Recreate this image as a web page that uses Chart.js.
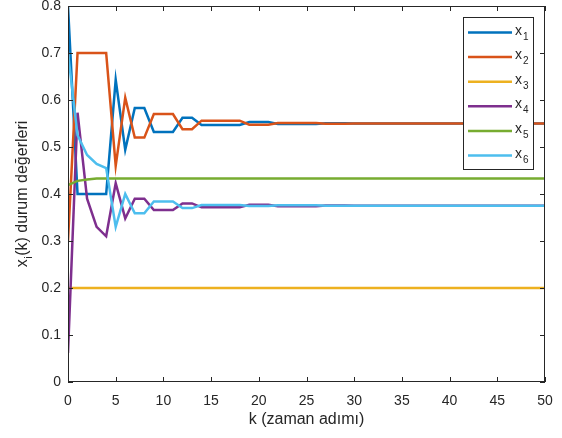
<!DOCTYPE html>
<html>
<head>
<meta charset="utf-8">
<script src="https://cdn.jsdelivr.net/npm/chart.js@4"></script>
<style>
  body { margin: 0; background: #fff; }
  #wrap { width: 562px; height: 438px; }
</style>
</head>
<body>
<div id="wrap"><canvas id="c" width="562" height="438"></canvas></div>
<script>
// k = 0..50
const steps = [0,1,2,3,4,5,6,7,8,9,10,11,12,13,14,15,16,17,18,19,20,21,22,23,24,25,26,27,28,29,30,
  31,32,33,34,35,36,37,38,39,40,41,42,43,44,45,46,47,48,49,50];

const x1 = [0.80, 0.40, 0.40, 0.40, 0.40, 0.643, 0.494, 0.583, 0.583, 0.532, 0.532, 0.532, 0.562, 0.562,
  0.547, 0.547, 0.547, 0.547, 0.547, 0.553, 0.553, 0.553, 0.549, 0.549, 0.549, 0.549, 0.549,
  0.5505, 0.5505, 0.5505, 0.5498, 0.5498, 0.5498, 0.5498, 0.5498,
  0.55, 0.55, 0.55, 0.55, 0.55, 0.55, 0.55, 0.55, 0.55, 0.55, 0.55, 0.55, 0.55, 0.55, 0.55, 0.55];
const x2 = [0.30, 0.70, 0.70, 0.70, 0.70, 0.46, 0.605, 0.52, 0.52, 0.57, 0.57, 0.57, 0.538, 0.538,
  0.556, 0.556, 0.556, 0.556, 0.556, 0.5475, 0.5475, 0.5475, 0.551, 0.551, 0.551, 0.551, 0.551,
  0.5495, 0.5495, 0.5495, 0.5502, 0.5502, 0.5502, 0.5502, 0.5502,
  0.55, 0.55, 0.55, 0.55, 0.55, 0.55, 0.55, 0.55, 0.55, 0.55, 0.55, 0.55, 0.55, 0.55, 0.55, 0.55];
const x3 = [0.2, 0.2, 0.2, 0.2, 0.2, 0.2, 0.2, 0.2, 0.2, 0.2, 0.2, 0.2, 0.2, 0.2, 0.2, 0.2, 0.2,
  0.2, 0.2, 0.2, 0.2, 0.2, 0.2, 0.2, 0.2, 0.2, 0.2, 0.2, 0.2, 0.2, 0.2, 0.2, 0.2, 0.2,
  0.2, 0.2, 0.2, 0.2, 0.2, 0.2, 0.2, 0.2, 0.2, 0.2, 0.2, 0.2, 0.2, 0.2, 0.2, 0.2, 0.2];
const x4 = [0.062, 0.573, 0.39, 0.33, 0.31, 0.423, 0.348, 0.39, 0.39, 0.366, 0.366, 0.366, 0.38, 0.38,
  0.3716, 0.3716, 0.3716, 0.3716, 0.3716, 0.377, 0.377, 0.377, 0.374, 0.374, 0.374, 0.374, 0.374,
  0.3755, 0.3755, 0.3755, 0.375, 0.375, 0.375, 0.375, 0.375,
  0.375, 0.375, 0.375, 0.375, 0.375, 0.375, 0.375, 0.375, 0.375, 0.375, 0.375, 0.375, 0.375, 0.375, 0.375, 0.375];
const x5 = [0.419, 0.428, 0.431, 0.433, 0.433, 0.433, 0.433, 0.433, 0.433, 0.433, 0.433, 0.433, 0.433,
  0.433, 0.433, 0.433, 0.433, 0.433, 0.433, 0.433, 0.433, 0.433, 0.433, 0.433, 0.433, 0.433,
  0.433, 0.433, 0.433, 0.433, 0.433, 0.433, 0.433, 0.433, 0.433, 0.433, 0.433, 0.433, 0.433,
  0.433, 0.433, 0.433, 0.433, 0.433, 0.433, 0.433, 0.433, 0.433, 0.433, 0.433, 0.433];
const x6 = [0.70, 0.525, 0.483, 0.464, 0.455, 0.33, 0.40, 0.359, 0.359, 0.384, 0.384, 0.384, 0.37, 0.37,
  0.3766, 0.3766, 0.3766, 0.3766, 0.3766, 0.3745, 0.3745, 0.3745, 0.3758, 0.3758, 0.3758, 0.3758, 0.3758,
  0.3748, 0.3748, 0.3748, 0.375, 0.375, 0.375, 0.375, 0.375,
  0.375, 0.375, 0.375, 0.375, 0.375, 0.375, 0.375, 0.375, 0.375, 0.375, 0.375, 0.375, 0.375, 0.375, 0.375, 0.375];

const seriesNames = ['1', '2', '3', '4', '5', '6']; // subscripts of x
const colors = ['#0072BD', '#D95319', '#EDB120', '#7E2F8E', '#77AC30', '#4DBEEE'];
const xTicks = [0, 5, 10, 15, 20, 25, 30, 35, 40, 45, 50];
const yTicks = [0, 0.1, 0.2, 0.3, 0.4, 0.5, 0.6, 0.7, 0.8];

const FONT = '"Liberation Sans", Arial, Helvetica, sans-serif';
const INK = '#262626';

const allSeries = [x1, x2, x3, x4, x5, x6];
const datasets = allSeries.map((s, i) => ({
  label: 'x' + seriesNames[i],
  data: steps.map((k, j) => ({ x: k, y: s[j] })),
  borderColor: colors[i],
  backgroundColor: colors[i],
  borderWidth: 2.5,
  pointRadius: 0,
  tension: 0,
  order: allSeries.length - i
}));

const matlabAxes = {
  id: 'matlabAxes',
  afterDatasetsDraw(chart) {
    const ctx = chart.ctx;
    const a = chart.chartArea;
    const xs = chart.scales.x, ys = chart.scales.y;
    ctx.save();
    ctx.strokeStyle = INK;
    ctx.lineWidth = 1;
    // box
    ctx.strokeRect(Math.round(a.left) + 0.5, Math.round(a.top) + 0.5,
      Math.round(a.right - a.left) - 1, Math.round(a.bottom - a.top) - 1);
    // inward ticks on all sides
    ctx.beginPath();
    xTicks.forEach(v => {
      const px = Math.round(xs.getPixelForValue(v)) + 0.5;
      ctx.moveTo(px, a.bottom); ctx.lineTo(px, a.bottom - 5);
      ctx.moveTo(px, a.top); ctx.lineTo(px, a.top + 5);
    });
    yTicks.forEach(v => {
      const py = Math.round(ys.getPixelForValue(v)) + 0.5;
      ctx.moveTo(a.left, py); ctx.lineTo(a.left + 5, py);
      ctx.moveTo(a.right, py); ctx.lineTo(a.right - 5, py);
    });
    ctx.stroke();

    // legend
    const lx = 463, ly = 17, lw = 70, lh = 152;
    ctx.fillStyle = '#fff';
    ctx.fillRect(lx, ly, lw, lh);
    ctx.strokeStyle = INK;
    ctx.strokeRect(lx + 0.5, ly + 0.5, lw, lh);
    seriesNames.forEach((n, i) => {
      const y = ly + 15.5 + i * 24.6;
      ctx.strokeStyle = colors[i];
      ctx.lineWidth = 2.5;
      ctx.beginPath();
      ctx.moveTo(lx + 5, y); ctx.lineTo(lx + 49, y);
      ctx.stroke();
      ctx.fillStyle = INK;
      ctx.textBaseline = 'alphabetic';
      ctx.textAlign = 'left';
      ctx.font = '14px ' + FONT;
      ctx.fillText('x', lx + 52, y + 2);
      const w = ctx.measureText('x').width;
      ctx.font = '10px ' + FONT;
      ctx.fillText(n, lx + 52 + w + 1, y + 7);
    });

    // axis titles
    ctx.fillStyle = INK;
    ctx.font = '16px ' + FONT;
    ctx.textAlign = 'center';
    ctx.textBaseline = 'middle';
    ctx.fillText('k (zaman adımı)', (a.left + a.right) / 2, 420);

    ctx.translate(22, (a.top + a.bottom) / 2);
    ctx.rotate(-Math.PI / 2);
    ctx.textAlign = 'left';
    ctx.textBaseline = 'alphabetic';
    const p1 = 'x', p2 = 'i', p3 = '(k) durum değerleri';
    ctx.font = '16px ' + FONT;
    const w1 = ctx.measureText(p1).width, w3 = ctx.measureText(p3).width;
    ctx.font = '11px ' + FONT;
    const w2 = ctx.measureText(p2).width;
    const sx = -(w1 + w2 + w3 + 1) / 2;
    ctx.font = '16px ' + FONT;
    ctx.fillText(p1, sx, 5);
    ctx.font = '11px ' + FONT;
    ctx.fillText(p2, sx + w1 + 0.5, 10);
    ctx.font = '16px ' + FONT;
    ctx.fillText(p3, sx + w1 + w2 + 1, 5);
    ctx.restore();
  }
};

new Chart(document.getElementById('c'), {
  type: 'line',
  data: { datasets: datasets },
  plugins: [matlabAxes],
  options: {
    responsive: false,
    animation: false,
    devicePixelRatio: 1,
    layout: { padding: { top: 6, right: 17, left: 0, bottom: 0 } },
    plugins: { legend: { display: false }, tooltip: { enabled: false } },
    scales: {
      x: {
        type: 'linear', min: 0, max: 50,
        grid: { display: false, drawTicks: false },
        border: { display: false },
        afterBuildTicks: s => { s.ticks = xTicks.map(v => ({ value: v })); },
        afterFit: s => { s.height = 56; s.paddingLeft = 0; s.paddingRight = 0; },
        ticks: { color: INK, font: { family: FONT, size: 14 }, padding: 11, maxRotation: 0,
          callback: v => String(v) }
      },
      y: {
        type: 'linear', min: 0, max: 0.8,
        grid: { display: false, drawTicks: false },
        border: { display: false },
        afterBuildTicks: s => { s.ticks = yTicks.map(v => ({ value: v })); },
        afterFit: s => { s.width = 68; s.paddingTop = 0; s.paddingBottom = 0; },
        ticks: { color: INK, font: { family: FONT, size: 14 }, padding: 7,
          callback: v => String(Math.round(v * 10) / 10) }
      }
    }
  }
});
</script>
</body>
</html>
